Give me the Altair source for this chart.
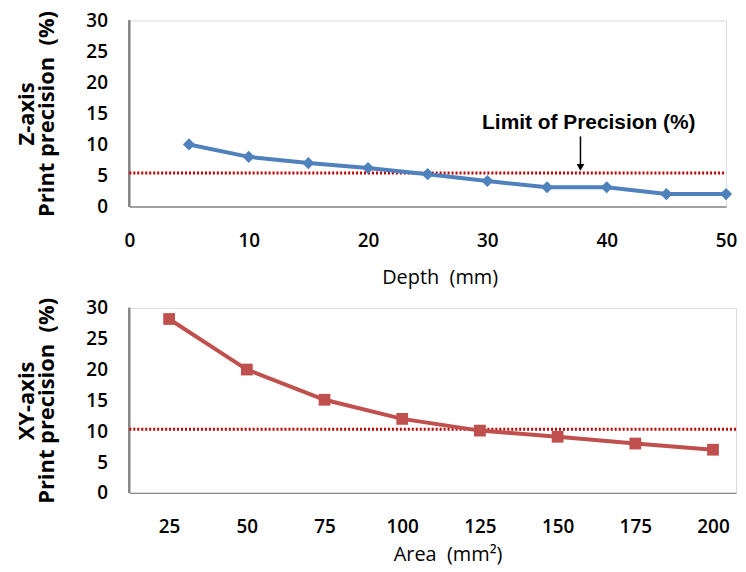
import altair as alt
import pandas as pd

# ---- data ----
depth = [5, 10, 15, 20, 25, 30, 35, 40, 45, 50]
z_precision = [10.0, 8.0, 7.0, 6.2, 5.2, 4.1, 3.1, 3.1, 2.0, 2.0]
z_limit = 5.4

area = [25, 50, 75, 100, 125, 150, 175, 200]
xy_precision = [28.2, 20.0, 15.1, 12.0, 10.1, 9.1, 8.0, 7.0]
xy_limit = 10.3

y_ticks = [0, 5, 10, 15, 20, 25, 30]
depth_ticks = [0, 10, 20, 30, 40, 50]

annot_text = ["Limit of Precision (%)"]
annot_x = [38.5]
annot_y = [13.4]
arrow_x = [37.8]
arrow_top = [11.3]
arrow_bottom = [6.3]

LABEL_FONT = "Open Sans"
TITLE_FONT = "Open Sans"
ANNOT_FONT = "Liberation Sans"
NB = "\u00a0"

top_df = pd.DataFrame({"depth": depth, "p": z_precision})
bot_df = pd.DataFrame({"area": area, "p": xy_precision})

def yaxis(title):
    return alt.Axis(values=y_ticks, grid=False, ticks=False, domain=False,
                    labelOverlap=False,
                    labelFont=LABEL_FONT, labelFontSize=19, labelColor="#000",
                    labelFontWeight=600,
                    labelPadding=22, title=title, titleFont=TITLE_FONT,
                    titleFontSize=22, titleFontWeight="bold", titleColor="#000",
                    titleLineHeight=20, titlePadding=28)

def xaxis(values, title, tpad, tx):
    return alt.Axis(values=values, grid=False, ticks=False, labelOverlap=False,
                    labelFlush=False,
                    domainColor="#888", domainWidth=1.5,
                    labelFont=LABEL_FONT, labelFontSize=19, labelColor="#000",
                    labelFontWeight=600, labelPadding=25, title=title,
                    titleFont=LABEL_FONT, titleFontSize=20,
                    titleFontWeight="normal", titleColor="#000",
                    titlePadding=tpad, titleX=tx)

# ---- top chart ----
xs_top = alt.Scale(domain=[0, 50], nice=False)
ys = alt.Scale(domain=[0, 30], nice=False)
top_y_axis = yaxis(["Z-axis", "Print precision" + NB + NB + "(%)"])
top_x_axis = xaxis(depth_ticks, "Depth" + NB + NB + "(mm)", 17, 312)

top_line = alt.Chart(top_df).mark_line(color="#4F81BD", strokeWidth=4).encode(
    x=alt.X("depth:Q", scale=xs_top, axis=top_x_axis),
    y=alt.Y("p:Q", scale=ys, axis=top_y_axis),
)
top_pts = alt.Chart(top_df).mark_point(shape="diamond", filled=True, size=150,
                                       color="#4F81BD", opacity=1).encode(
    x=alt.X("depth:Q", scale=xs_top, axis=top_x_axis),
    y=alt.Y("p:Q", scale=ys, axis=top_y_axis))
top_yline = alt.Chart(top_df).mark_rule(color="#888", strokeWidth=1.5).encode(
    x=alt.value(0), y=alt.value(0), y2=alt.value(187))
top_limit = alt.Chart(pd.DataFrame({"v": [z_limit]})).mark_rule(
    color="#C00000", strokeWidth=3, strokeDash=[2, 2]).encode(
    y=alt.Y("v:Q", scale=ys, axis=top_y_axis), x=alt.value(0), x2=alt.value(600))
annot_df = pd.DataFrame({"t": annot_text, "x": annot_x, "y": annot_y})
top_text = alt.Chart(annot_df).mark_text(font=ANNOT_FONT, fontSize=21,
                                         fontWeight="bold", color="#000").encode(
    x=alt.X("x:Q", scale=xs_top, axis=top_x_axis),
    y=alt.Y("y:Q", scale=ys, axis=top_y_axis), text="t:N")
arrow_df = pd.DataFrame({"x": arrow_x, "y1": arrow_top, "y2": arrow_bottom})
top_arrow = alt.Chart(arrow_df).mark_rule(color="#000", strokeWidth=1.5).encode(
    x=alt.X("x:Q", scale=xs_top, axis=top_x_axis),
    y=alt.Y("y1:Q", scale=ys, axis=top_y_axis), y2="y2:Q")
top_head = alt.Chart(arrow_df).mark_point(shape="triangle-down", filled=True,
                                          size=60, color="#000", opacity=1).encode(
    x=alt.X("x:Q", scale=xs_top, axis=top_x_axis),
    y=alt.Y("y2:Q", scale=ys, axis=top_y_axis))

top = alt.layer(top_yline, top_limit, top_line, top_pts, top_arrow, top_head,
                top_text).properties(width=600, height=187)

# ---- bottom chart ----
xs_bot = alt.Scale(domain=[12.2, 207.4], nice=False, zero=False)
bot_y_axis = yaxis(["XY-axis", "Print precision" + NB + NB + "(%)"])
bot_x_axis = xaxis(area, "Area" + NB + NB + "(mm²)", 8, 320)

bot_line = alt.Chart(bot_df).mark_line(color="#C0504D", strokeWidth=4).encode(
    x=alt.X("area:Q", scale=xs_bot, axis=bot_x_axis),
    y=alt.Y("p:Q", scale=ys, axis=bot_y_axis),
)
bot_pts = alt.Chart(bot_df).mark_point(shape="square", filled=True, size=140,
                                       color="#C0504D", opacity=1).encode(
    x=alt.X("area:Q", scale=xs_bot, axis=bot_x_axis),
    y=alt.Y("p:Q", scale=ys, axis=bot_y_axis))
bot_yline = alt.Chart(bot_df).mark_rule(color="#888", strokeWidth=1.5).encode(
    x=alt.value(0), y=alt.value(0), y2=alt.value(186))
bot_limit = alt.Chart(pd.DataFrame({"v": [xy_limit]})).mark_rule(
    color="#C00000", strokeWidth=3, strokeDash=[2, 2]).encode(
    y=alt.Y("v:Q", scale=ys, axis=bot_y_axis), x=alt.value(0), x2=alt.value(610))

bottom = alt.layer(bot_yline, bot_limit, bot_line, bot_pts).properties(
    width=610, height=186)

chart = alt.vconcat(top, bottom, spacing=8).properties(
    padding={"left": 6, "top": 0, "right": 0, "bottom": 0}
).configure_view(stroke=None).configure(background="white")

chart.save("out.html", embed_options={"renderer": "svg", "actions": False})
